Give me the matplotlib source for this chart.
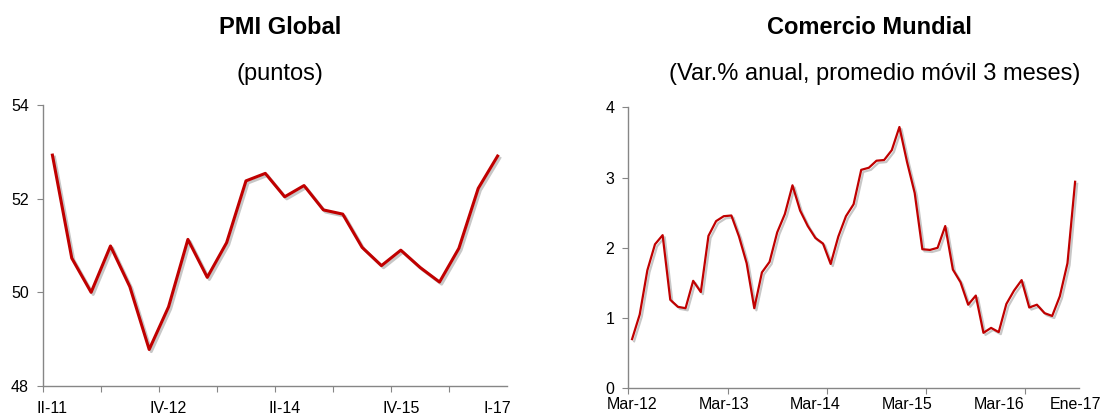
import matplotlib
matplotlib.use("Agg")
import matplotlib.pyplot as plt
import matplotlib.patheffects as pe
import numpy as np

plt.rcParams['font.family'] = ['Liberation Sans', 'DejaVu Sans']

# PMI global, trimestral (II-11 .. I-17)
pmi_vals = [52.93, 50.73, 50.00, 50.99, 50.12, 48.78, 49.69, 51.13, 50.32, 51.06,
            52.38, 52.54, 52.04, 52.28, 51.76, 51.67, 50.96, 50.57, 50.90, 50.53,
            50.22, 50.94, 52.22, 52.91]
pmi_labels = ['II-11', 'IV-12', 'II-14', 'IV-15', 'I-17']
pmi_label_pos = [0, 6, 12, 18, 23]

# Comercio mundial, mensual (Mar-12 .. Ene-17)
trade_vals = [0.70, 1.05, 1.68, 2.05, 2.18, 1.26, 1.16, 1.14, 1.53, 1.37,
              2.17, 2.38, 2.45, 2.46, 2.16, 1.78, 1.14, 1.65, 1.80, 2.22,
              2.48, 2.89, 2.53, 2.31, 2.14, 2.06, 1.77, 2.16, 2.45, 2.62,
              3.11, 3.14, 3.24, 3.25, 3.39, 3.72, 3.22, 2.78, 1.98, 1.97,
              2.00, 2.31, 1.69, 1.51, 1.19, 1.32, 0.79, 0.86, 0.80, 1.20,
              1.39, 1.54, 1.15, 1.19, 1.07, 1.03, 1.31, 1.78, 2.94]
trade_labels = ['Mar-12', 'Mar-13', 'Mar-14', 'Mar-15', 'Mar-16', 'Ene-17']
trade_label_pos = [0, 12, 24, 36, 48, 58]

red = '#C00000'
grey = '#868686'

fig = plt.figure(figsize=(11.1, 4.16), dpi=100)
ax1 = fig.add_axes([0.0385, 0.0721, 0.4185, 0.6755])
ax2 = fig.add_axes([0.566, 0.0666, 0.406, 0.6754])

shadow = [pe.SimpleLineShadow(offset=(1.5, -1.5), shadow_color='k', alpha=0.22),
          pe.Normal()]


def style(ax, n, step, label_pos, labels, pad):
    for s in ['top', 'right']:
        ax.spines[s].set_visible(False)
    for s in ['left', 'bottom']:
        ax.spines[s].set_color(grey)
        ax.spines[s].set_linewidth(1.0)
    ax.set_xlim(-0.5, n - 0.5)
    ax.set_xticks(np.arange(-0.5, n - 0.5, step))
    ax.set_xticklabels([])
    ax.set_xticks(label_pos, minor=True)
    ax.set_xticklabels(labels, minor=True)
    ax.tick_params(axis='x', which='major', direction='out', length=4,
                   color=grey)
    ax.tick_params(axis='x', which='minor', length=0, pad=pad,
                   labelsize=11.5, labelcolor='black')
    ax.tick_params(axis='y', direction='out', length=4, color=grey,
                   labelsize=11.5, pad=6)


n1 = len(pmi_vals)
ax1.plot(np.arange(n1), pmi_vals, color=red, lw=2.2,
         solid_joinstyle='round', path_effects=shadow)
ax1.set_ylim(48, 54)
ax1.set_yticks([48, 50, 52, 54])
style(ax1, n1, 3, pmi_label_pos, pmi_labels, 11)

n2 = len(trade_vals)
ax2.plot(np.arange(n2), trade_vals, color=red, lw=1.6,
         solid_joinstyle='round', path_effects=shadow)
ax2.set_ylim(0, 4)
ax2.set_yticks([0, 1, 2, 3, 4])
ax2.set_xlim(-0.5, n2 - 0.5)
style(ax2, n2, 13, trade_label_pos, trade_labels, 6)

fig.text(0.2523, 0.935, 'PMI Global', ha='center', va='center',
         fontsize=17, fontweight='bold')
fig.text(0.2523, 0.823, '(puntos)', ha='center', va='center', fontsize=17)
fig.text(0.7835, 0.935, 'Comercio Mundial', ha='center', va='center',
         fontsize=17, fontweight='bold')
fig.text(0.788, 0.823, '(Var.% anual, promedio móvil 3 meses)',
         ha='center', va='center', fontsize=17)

fig.savefig('out.png', dpi=100)
